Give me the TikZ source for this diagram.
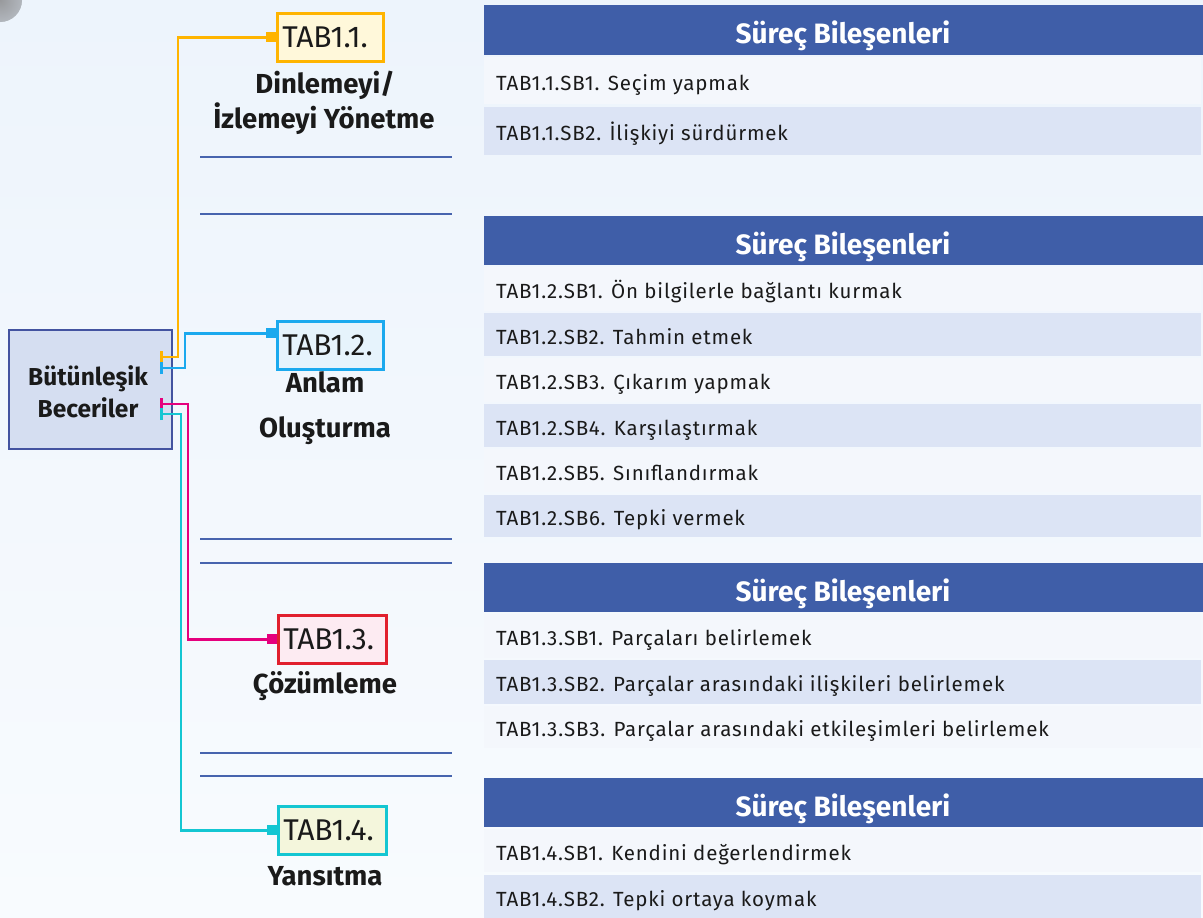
\documentclass[tikz,border=0pt]{standalone}
\usepackage{fontspec}
\setmainfont{Fira Sans}
\newfontfamily\rowfont{Fira Sans}[LetterSpace=4]
\usetikzlibrary{arrows.meta}

\definecolor{bgtop}{HTML}{EDF4FC}
\definecolor{bgbot}{HTML}{F8FBFE}
\definecolor{ink}{HTML}{1A1A1A}
\definecolor{headblue}{HTML}{3F5EA8}
\definecolor{rowlight}{HTML}{F4F7FC}
\definecolor{rowdark}{HTML}{DCE4F5}
\definecolor{sepblue}{HTML}{4764AE}
\definecolor{rootfill}{HTML}{D5DEF1}
\definecolor{rootdraw}{HTML}{4353A0}
\definecolor{cyellow}{HTML}{FFB400}
\definecolor{fyellow}{HTML}{FFF8DA}
\definecolor{cblue}{HTML}{1BA9EE}
\definecolor{fblue}{HTML}{E6F3FC}
\definecolor{cmagenta}{HTML}{E5007D}
\definecolor{cred}{HTML}{E1202E}
\definecolor{fpink}{HTML}{FDEBF2}
\definecolor{ccyan}{HTML}{14C6D2}
\definecolor{fcream}{HTML}{F4F6DC}

\tikzset{
  rowcell/.style={rectangle, inner sep=0pt, minimum width=717pt, anchor=north west},
  rowtext/.style={inner sep=0pt, anchor=base west, text=ink, font=\rowfont\fontsize{20.5}{22}\selectfont},
  headcell/.style={rectangle, fill=headblue, inner sep=0pt, minimum width=719pt, minimum height=50pt, anchor=north west},
  headtext/.style={inner sep=0pt, anchor=base, text=white, font=\bfseries\fontsize{28}{30}\selectfont},
  tabbox/.style={rectangle, draw, line width=2.5pt, text width=98pt, align=left, inner xsep=5pt, inner ysep=0pt, minimum height=48pt, anchor=north west, text=ink, font=\fontsize{30}{32}\selectfont},
  tablabel/.style={inner sep=0pt, anchor=base, text=ink, font=\bfseries\fontsize{27.5}{29}\selectfont},
  rootlabel/.style={inner sep=0pt, anchor=base, text=ink, font=\bfseries\fontsize{24.5}{26}\selectfont},
  sepline/.style={draw=sepblue},
  conn/.style={line width=2.5pt, {Bar[width=12pt 0]}-{Square[length=10pt 0,width=10pt 0]}}
}

% one row of a process-component table: name, top, bottom, fill, text
\newcommand\sbrow[5]{%
  \node[rowcell, fill=#4, minimum height={(#3-#2)*1pt}] (#1) at (484,#2) {};
  \node[rowtext] (#1t) at (496,{(#2+#3)/2+9.5}) {#5};
}

\begin{document}
\begin{tikzpicture}[x=1pt,y=-1pt]
\useasboundingbox (0,0) rectangle (1203,918);
\fill[top color=bgtop, bottom color=bgbot] (0,0) rectangle (1203,918);
\fill[inner color=black!30, outer color=bgtop, opacity=0.45] (0,0) circle (22);

% separators in the left column
\draw[sepline, line width=2pt] (200,157) -- (452,157);
\draw[sepline, line width=1.3pt] (200,214) -- (452,214);
\draw[sepline, line width=1.6pt] (200,539) -- (452,539);
\draw[sepline, line width=1.3pt] (200,563) -- (452,563);
\draw[sepline, line width=1.6pt] (200,753) -- (452,753);
\draw[sepline, line width=1.3pt] (200,776) -- (452,776);

% tables
\node[headcell] (h1) at (484,5) {};
\node[headtext] (h1t) at (843,43) {Süreç Bileşenleri};
\sbrow{r11}{57}{104}{rowlight}{TAB1.1.SB1. Seçim yapmak}
\sbrow{r12}{107}{155}{rowdark}{TAB1.1.SB2. İlişkiyi sürdürmek}

\node[headcell, minimum height=49pt] (h2) at (484,216) {};
\node[headtext] (h2t) at (843,254) {Süreç Bileşenleri};
\sbrow{r21}{267}{311}{rowlight}{TAB1.2.SB1. Ön bilgilerle bağlantı kurmak}
\sbrow{r22}{313}{356}{rowdark}{TAB1.2.SB2. Tahmin etmek}
\sbrow{r23}{358}{402}{rowlight}{TAB1.2.SB3. Çıkarım yapmak}
\sbrow{r24}{404}{447}{rowdark}{TAB1.2.SB4. Karşılaştırmak}
\sbrow{r25}{449}{492}{rowlight}{TAB1.2.SB5. Sınıflandırmak}
\sbrow{r26}{495}{537}{rowdark}{TAB1.2.SB6. Tepki vermek}

\node[headcell, minimum height=49pt] (h3) at (484,563) {};
\node[headtext] (h3t) at (843,601) {Süreç Bileşenleri};
\sbrow{r31}{614}{658}{rowlight}{TAB1.3.SB1. Parçaları belirlemek}
\sbrow{r32}{660}{704}{rowdark}{TAB1.3.SB2. Parçalar arasındaki ilişkileri belirlemek}
\sbrow{r33}{706}{748}{rowlight}{TAB1.3.SB3. Parçalar arasındaki etkileşimleri belirlemek}

\node[headcell, minimum height=49pt] (h4) at (484,778) {};
\node[headtext] (h4t) at (843,816) {Süreç Bileşenleri};
\sbrow{r41}{829}{872}{rowlight}{TAB1.4.SB1. Kendini değerlendirmek}
\sbrow{r42}{875}{918}{rowdark}{TAB1.4.SB2. Tepki ortaya koymak}

% root
\node[rectangle, draw=rootdraw, fill=rootfill, line width=2.2pt, minimum width=163pt, minimum height=119pt, anchor=north west, inner sep=0pt] (root) at (8,329) {};
\node[rootlabel] (rootl1) at (88,385) {Bütünleşik};
\node[rootlabel] (rootl2) at (88,417) {Beceriler};

% skill boxes
\node[tabbox, draw=cyellow, fill=fyellow, text width=96pt] (t1) at (276,12) {TAB1.1.};
\node[tablabel] (l1a) at (325,93) {Dinlemeyi/};
\node[tablabel] (l1b) at (324,128) {İzlemeyi Yönetme};

\node[tabbox, draw=cblue, fill=fblue, text width=96pt] (t2) at (276,320) {TAB1.2.};
\node[tablabel] (l2a) at (325,392) {Anlam};
\node[tablabel] (l2b) at (325,437) {Oluşturma};

\node[tabbox, draw=cred, fill=fpink] (t3) at (277,614) {TAB1.3.};
\node[tablabel] (l3) at (325,693) {Çözümleme};

\node[tabbox, draw=ccyan, fill=fcream] (t4) at (277,805) {TAB1.4.};
\node[tablabel] (l4) at (325,885) {Yansıtma};

% connectors from the root
\coordinate (s1) at (160,357);
\coordinate (s2) at (160,368);
\coordinate (s3) at (160,404);
\coordinate (s4) at (160,414);
\draw[conn, cyellow] (s1) -- ++(18,0) |- (t1.west);
\draw[conn, cblue] (s2) -- ++(25,0) |- ([yshift=12pt]t2.west);
\draw[conn, cmagenta] (s3) -- ++(28,0) |- (t3.west);
\draw[conn, ccyan] (s4) -- ++(21,0) |- (t4.west);
\end{tikzpicture}
\end{document}
